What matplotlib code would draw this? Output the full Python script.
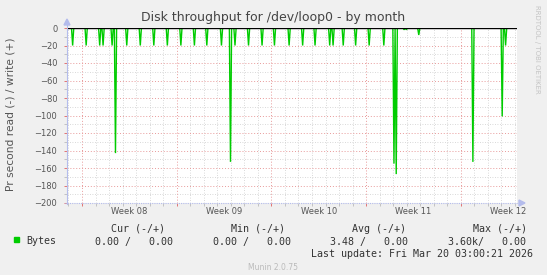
import numpy as np
import matplotlib
matplotlib.use('Agg')
import matplotlib.pyplot as plt

# --- data (days counted from Mon 16 Feb 2026 = start of week 08) ---
spike_days = [-0.72, 0.30, 1.28, 1.57, 2.24, 2.44, 3.30, 4.29, 5.27, 6.30,
              7.29, 8.30, 9.26, 10.27, 10.99, 11.31, 12.29, 13.28, 14.26, 15.30,
              16.28, 17.22, 18.28, 18.53, 19.27, 20.25, 21.23, 22.27, 23.08, 23.23,
              23.80, 24.00, 24.93, 28.92, 31.07, 31.34]
spike_vals = [-20, -20, -20, -20, -20, -143, -20, -20, -20, -20,
              -20, -20, -20, -20, -153, -20, -20, -20, -20, -20,
              -20, -20, -20, -20, -20, -20, -20, -20, -155, -167,
              -2, -2, -8, -153, -101, -20]

week_starts = [0, 7, 14, 21, 28]
week_labels = ['Week 08', 'Week 09', 'Week 10', 'Week 11', 'Week 12']
y_ticks = [0, -20, -40, -60, -80, -100, -120, -140, -160, -180, -200]

legend_heads = ['Cur (-/+)', 'Min (-/+)', 'Avg (-/+)', 'Max (-/+)']
legend_vals = ['0.00 /   0.00', '0.00 /   0.00', '3.48 /   0.00', '3.60k/   0.00']

# 2-hour consolidated series
t_start, t_end = -1.11, 32.15
t = np.arange(t_start, t_end, 1 / 12)
y = np.zeros(len(t))
for d, v in zip(spike_days, spike_vals):
    y[np.argmin(np.abs(t - d))] = v

W, H = 547, 275
fig = plt.figure(figsize=(W / 100, H / 100), dpi=100, facecolor='#F0F0F0')

def fx(px): return px / W
def fy(py): return 1 - py / H

ax = fig.add_axes([fx(67), fy(203), fx(517 - 67), (203 - 28) / H])
ax.set_facecolor('white')
ax.set_xlim(t_start, t_end)
ax.set_ylim(-200, 0)
for s in ax.spines.values():
    s.set_visible(False)

# grid
dot = (0, (1, 2))
for d in range(-1, 33):
    if d in week_starts:
        continue
    ax.axvline(d, color='#CCCCCC', lw=0.6, ls=dot, zorder=1)
for v in range(-190, 0, 20):
    ax.axhline(v, color='#CCCCCC', lw=0.6, ls=dot, zorder=1)
for d in week_starts:
    ax.axvline(d, color='#E89A9A', lw=0.7, ls=dot, zorder=1)
for v in y_ticks[1:-1]:
    ax.axhline(v, color='#E89A9A', lw=0.7, ls=dot, zorder=1)

ax.plot(t, y, color='#00CC00', lw=1.0, zorder=3, solid_joinstyle='miter')
ax.plot([t_start, 32.05], [0, 0], color='black', lw=1.0, zorder=4)

# ticks
ax.set_yticks(y_ticks)
ax.set_yticks(range(-190, 0, 20), minor=True)
ax.set_xticks(week_starts)
ax.set_xticks([d for d in range(-1, 33) if d not in week_starts], minor=True)
ax.xaxis.set_major_formatter(plt.NullFormatter())
ax.tick_params(axis='both', which='major', color='#E06060', length=2, width=0.6,
               labelsize=6, labelcolor='#555555')
ax.tick_params(axis='both', which='minor', color='#BBBBBB', length=2, width=0.6)
ax.tick_params(axis='y', pad=5)
for d, lab in zip(week_starts, week_labels):
    xf = fig.transFigure.inverted().transform(ax.transData.transform((d + 3.5, 0)))[0]
    fig.text(xf, fy(212), lab, ha='center', va='center', fontsize=6, color='#555555')

# axis lines with arrows
axis_col = '#B4BCEC'
fig.add_artist(plt.Line2D([fx(67), fx(67)], [fy(204), fy(24)], color=axis_col, lw=0.8))
fig.add_artist(plt.Line2D([fx(65), fx(521)], [fy(203), fy(203)], color=axis_col, lw=0.8, ls=(0, (1, 1))))
fig.add_artist(plt.Polygon([[fx(64), fy(25)], [fx(70), fy(25)], [fx(67), fy(19)]], color=axis_col))
fig.add_artist(plt.Polygon([[fx(519), fy(200)], [fx(519), fy(206)], [fx(525), fy(203)]], color=axis_col))

# titles
fig.text(fx(273), fy(18), 'Disk throughput for /dev/loop0 - by month',
         ha='center', va='center', fontsize=9.0, color='#444444')
fig.text(fx(11), fy(114), 'Pr second read (-) / write (+)', rotation=90,
         ha='center', va='center', fontsize=7.7, color='#555555')
fig.text(fx(537), fy(5), 'RRDTOOL / TOBI OETIKER', rotation=270,
         ha='center', va='top', fontsize=5, color='#C4C4C4')

# legend
mono = 'DejaVu Sans Mono'
head_x = [111, 231, 352, 473]
val_x = [95, 213, 330, 448]
for x, s in zip(head_x, legend_heads):
    fig.text(fx(x), fy(228.6), s, ha='left', va='center', fontsize=7.2,
             family=mono, color='#333333')
fig.add_artist(plt.Rectangle((fx(14), fy(242)), fx(5), 5 / H, color='#00CC00'))
fig.text(fx(26), fy(241.5), 'Bytes', ha='left', va='center', fontsize=7.2,
         family=mono, color='#333333')
for x, s in zip(val_x, legend_vals):
    fig.text(fx(x), fy(241.5), s, ha='left', va='center', fontsize=7.2,
             family=mono, color='#333333')
fig.text(fx(533), fy(254), 'Last update: Fri Mar 20 03:00:21 2026', ha='right',
         va='center', fontsize=7.2, family=mono, color='#333333')
fig.text(fx(273), fy(267), 'Munin 2.0.75', ha='center', va='center',
         fontsize=5.5, color='#BBBBBB')

fig.savefig('out.png', dpi=100, facecolor=fig.get_facecolor())
